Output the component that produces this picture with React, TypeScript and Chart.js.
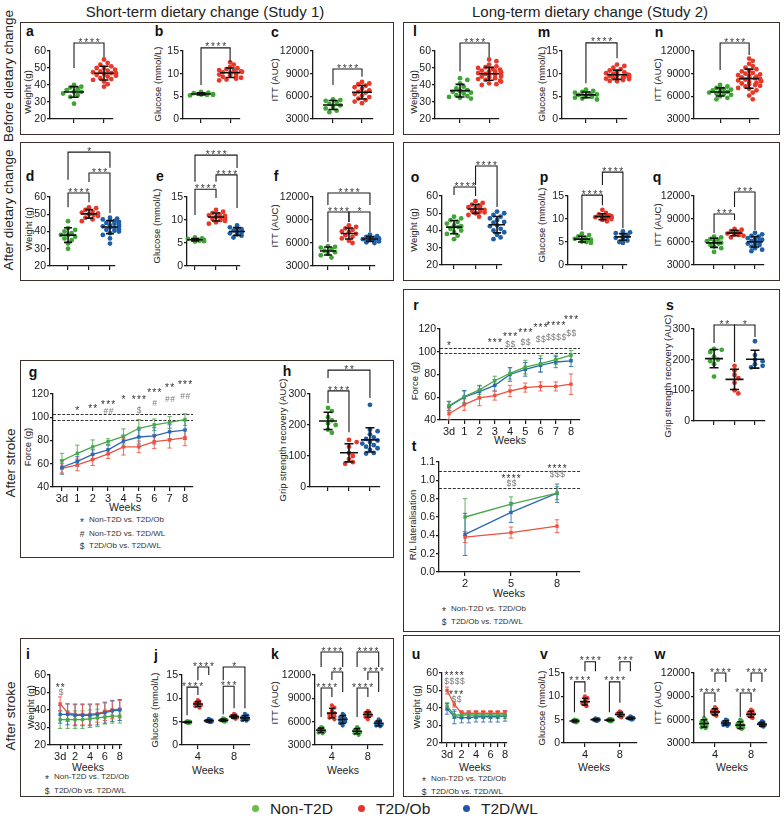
import React, { useEffect, useRef } from 'react';
import { Chart, registerables } from 'chart.js';
Chart.register(...registerables);

const FONT = "'Liberation Sans', Arial, Helvetica, sans-serif";
Chart.defaults.font.family = FONT;

const C_NON = '#3fa535';
const C_OB = '#e8382a';
const C_WL = '#1f5fa6';
const L_NON = '#47a847';
const L_OB = '#ee5040';
const L_WL = '#2a69b4';

// ================= DATA =================
const seriesNames = ['Non-T2D', 'T2D/Ob', 'T2D/WL'];

// tick values / labels
const weightTicks = [20, 30, 40, 50, 60];
const glucoseTicks = [0, 5, 10, 15];
const ittTicks = [3000, 6000, 9000, 12000];
const gripTicks = [0, 100, 200, 300];
const forceTicks = [40, 60, 80, 100, 120];
const lateralTicks = [0, 0.2, 0.4, 0.6, 0.8, 1.0, 1.2];
const lateralLabels = ['0.0', '0.2', '0.4', '0.6', '0.8', '1.0', '1.1'];
const weekPos9 = [0, 1, 2, 3, 4, 5, 6, 7, 8];
const weekLabels9 = ['3d', '1', '2', '3', '4', '5', '6', '7', '8'];
const weekLabelsSparse = ['3d', '', '2', '', '4', '', '6', '', '8'];
const weekPos3 = [2, 5, 8];
const weekLabels3 = ['2', '5', '8'];
const weekPair = ['4', '8'];

// Study 1 - before dietary change
const a_NonT2D = [40, 39, 38.5, 37.5, 37, 36, 36, 35, 34, 33, 29];
const a_T2DOb = [55, 53, 52, 51, 50, 50, 49, 48.5, 48, 47.5, 47, 47, 46.5, 46, 45.5, 45, 44, 43.5, 43, 42, 40.5, 39];
const b_NonT2D = [6.0, 5.8, 5.7, 5.6, 5.5, 5.5, 5.4, 5.3, 5.2, 5.3];
const b_T2DOb = [12.5, 12.0, 11.5, 11.2, 11.0, 10.8, 10.6, 10.5, 10.4, 10.3, 10.2, 10.1, 10.0, 9.9, 9.8, 9.6, 9.5, 9.3, 9.1, 8.9, 8.7, 8.5];
const c_NonT2D = [5600, 5500, 5400, 5200, 5000, 4800, 4600, 4400, 4100, 3900];
const c_T2DOb = [7900, 7700, 7600, 7400, 7200, 7000, 6800, 6600, 6500, 6300, 6100, 5900, 5700, 5500, 5300, 5100];
// Study 2 - before
const l_NonT2D = [44, 43, 41, 39, 38, 37, 36.5, 36, 35.5, 35, 34, 33.5, 33, 32.5, 32];
const l_T2DOb = [55, 54, 52, 51, 50.5, 50, 49.5, 49, 48.5, 48, 48, 47.5, 47, 47, 46.5, 46.5, 46, 46, 45.5, 45, 45, 44.5, 44, 43.5, 43, 42.5, 42, 41, 40.5, 40];
const m_NonT2D = [6.5, 6.2, 6.0, 5.8, 5.6, 5.4, 5.3, 5.2, 5.1, 5.0, 4.9, 4.7, 4.5, 4.3];
const m_T2DOb = [12.0, 11.7, 11.3, 11.0, 10.7, 10.5, 10.3, 10.1, 10.0, 9.9, 9.8, 9.7, 9.6, 9.5, 9.4, 9.3, 9.2, 9.1, 9.0, 8.9, 8.8, 8.7, 8.6, 8.4, 8.3];
const n_NonT2D = [7500, 7300, 7100, 7000, 6900, 6800, 6700, 6600, 6500, 6400, 6300, 6200, 6000, 5800, 5600];
const n_T2DOb = [11000, 10700, 10300, 10000, 9800, 9600, 9400, 9300, 9100, 9000, 8900, 8800, 8700, 8600, 8500, 8500, 8400, 8300, 8200, 8100, 8000, 7900, 7800, 7700, 7600, 7500, 7400, 7300, 7100, 7000, 6800, 6500, 6100, 5600];
// Study 1 - after dietary change
const d_NonT2D = [46, 42, 41, 40, 39, 38, 38, 37, 36, 35, 33, 30];
const d_T2DOb = [54, 53.5, 52.5, 51.5, 51, 50.5, 50, 49.5, 49, 48, 47, 46];
const d_T2DWL = [48, 47.5, 47, 46.5, 46, 45.5, 45, 44.5, 44, 43.5, 43, 43, 42.5, 42, 41.5, 41, 40.5, 40, 39, 38, 36, 33];
const e_NonT2D = [6.2, 6.0, 5.9, 5.8, 5.7, 5.7, 5.6, 5.5, 5.4, 5.3];
const e_T2DOb = [12.2, 11.8, 11.5, 11.2, 11.0, 10.9, 10.7, 10.6, 10.4, 10.2, 10.0, 9.8, 9.5, 9.2];
const e_T2DWL = [8.8, 8.6, 8.4, 8.2, 8.0, 7.8, 7.7, 7.6, 7.5, 7.4, 7.3, 7.1, 6.9, 6.6, 6.2, 5.8];
const f_NonT2D = [5600, 5500, 5400, 5200, 5000, 4800, 4600, 4400, 4100];
const f_T2DOb = [8300, 8100, 7900, 7700, 7500, 7400, 7200, 7000, 6800, 6600, 6300, 6000];
const f_T2DWL = [7100, 6900, 6800, 6700, 6650, 6600, 6550, 6500, 6450, 6400, 6300, 6200, 6100, 6000];
// Study 2 - after dietary change
const o_NonT2D = [48, 47, 46, 45, 44, 43, 42.5, 42, 41, 40, 39, 38, 37, 35];
const o_T2DOb = [57, 56, 55, 54.5, 54, 53.5, 53, 52.5, 52, 51.5, 51, 50.5, 50, 49, 48];
const o_T2DWL = [51, 50, 49, 48, 47, 46, 45, 44.5, 44, 43, 42.5, 42, 41, 40, 39, 37.5, 36, 35];
const p_NonT2D = [6.8, 6.5, 6.2, 5.9, 5.7, 5.5, 5.4, 5.3, 5.2, 5.1, 5.0, 4.8];
const p_T2DOb = [12.0, 11.3, 11.0, 10.8, 10.7, 10.6, 10.5, 10.4, 10.3, 10.2, 10.1, 10.0, 9.8, 9.5];
const p_T2DWL = [7.3, 7.1, 6.9, 6.7, 6.5, 6.4, 6.3, 6.2, 6.1, 6.0, 5.9, 5.7, 5.5, 5.3, 5.0, 4.8];
const q_NonT2D = [6700, 6600, 6400, 6300, 6100, 6000, 5900, 5800, 5600, 5400, 5200, 4700];
const q_T2DOb = [7700, 7600, 7400, 7300, 7200, 7100, 7000, 6900, 6800, 6600];
const q_T2DWL = [7200, 7000, 6800, 6700, 6500, 6400, 6300, 6200, 6100, 6000, 5900, 5800, 5700, 5600, 5400, 5200, 5000, 4800];
// Grip strength recovery (AUC)
const h_NonT2D = [255, 245, 225, 215, 205, 200, 185, 175];
const h_T2DOb = [152, 145, 130, 110, 100, 90, 80, 75];
const h_T2DWL = [265, 185, 180, 170, 160, 155, 150, 145, 140, 135, 130, 125, 120, 110, 108];
const s_NonT2D = [235, 232, 225, 210, 200, 195, 185, 145];
const s_T2DOb = [180, 165, 150, 140, 125, 100, 90];
const s_T2DWL = [260, 215, 200, 195, 185, 180, 175];
// After stroke glucose / ITT (week 4, week 8)
const j_wk4_NonT2D = [5.1, 5.0, 5.0, 4.9, 4.9, 4.8, 4.8, 4.7];
const j_wk4_T2DOb = [9.6, 9.3, 9.0, 8.8, 8.7, 8.5, 8.3, 8.0];
const j_wk4_T2DWL = [5.6, 5.4, 5.3, 5.2, 5.1, 5.0, 5.0, 4.9];
const j_wk8_NonT2D = [5.7, 5.5, 5.4, 5.3, 5.3, 5.2, 5.1, 5.0];
const j_wk8_T2DOb = [6.7, 6.4, 6.2, 6.1, 6.0, 5.9, 5.8, 5.6];
const j_wk8_T2DWL = [6.7, 6.3, 6.0, 5.8, 5.7, 5.5, 5.3, 5.2];
const k_wk4_NonT2D = [5300, 5200, 5000, 4900, 4850, 4750, 4600, 4500];
const k_wk4_T2DOb = [8100, 7800, 7400, 7100, 6900, 6700, 6500, 6300];
const k_wk4_T2DWL = [7000, 6800, 6600, 6400, 6200, 6000, 5800, 5500];
const k_wk8_NonT2D = [5300, 5100, 4900, 4800, 4700, 4600, 4500, 4300];
const k_wk8_T2DOb = [7400, 7200, 7100, 7000, 6900, 6800, 6600, 6300];
const k_wk8_T2DWL = [6300, 6100, 5900, 5800, 5700, 5600, 5500, 5400];
const v_wk4_NonT2D = [5.0, 4.9, 4.8, 4.7, 4.7, 4.6, 4.5, 4.4];
const v_wk4_T2DOb = [10.0, 9.6, 9.2, 8.9, 8.7, 8.4, 8.2, 7.9];
const v_wk4_T2DWL = [5.3, 5.2, 5.1, 5.0, 5.0, 4.9, 4.8, 4.7];
const v_wk8_NonT2D = [5.2, 5.1, 5.0, 4.9, 4.9, 4.8, 4.7, 4.6];
const v_wk8_T2DOb = [6.8, 6.5, 6.3, 6.1, 6.0, 5.9, 5.7, 5.5];
const v_wk8_T2DWL = [5.7, 5.5, 5.4, 5.3, 5.2, 5.2, 5.1, 5.0];
const w_wk4_NonT2D = [6200, 6000, 5800, 5600, 5400, 5200, 5000, 4900];
const w_wk4_T2DOb = [7600, 7400, 7200, 7000, 6900, 6800, 6600, 6500];
const w_wk4_T2DWL = [6000, 5900, 5700, 5600, 5500, 5400, 5300, 5200];
const w_wk8_NonT2D = [6000, 5800, 5500, 5300, 5100, 5000, 4900, 4800];
const w_wk8_T2DOb = [7300, 7100, 6900, 6700, 6600, 6500, 6300, 6200];
const w_wk8_T2DWL = [5800, 5700, 5500, 5400, 5300, 5300, 5200, 5100];

// Grip force time courses (mean, SD)
const g_NonT2D_mean = [62.5, 69, 74.5, 79, 83.5, 90.5, 93.5, 95.5, 98];
const g_NonT2D_sd = [6.5, 7, 6, 2.5, 6.5, 7.5, 5, 5, 5];
const g_T2DWL_mean = [57, 62, 68, 72, 79.5, 83, 84, 87.5, 89];
const g_T2DWL_sd = [6, 4, 4, 4, 5, 6, 7, 6, 8];
const g_T2DOb_mean = [56, 59, 63.5, 68.5, 74.5, 74.5, 79, 80.5, 82.5];
const g_T2DOb_sd = [4, 5, 5, 4, 7, 5, 6, 7, 7];
const r_NonT2D_mean = [52.5, 60.5, 66.5, 74.5, 81, 86.5, 89.5, 93, 97];
const r_NonT2D_sd = [4, 5, 4, 4, 5, 6, 7, 4, 4];
const r_T2DWL_mean = [52, 60, 65, 70.5, 80, 84.5, 88, 91, 92];
const r_T2DWL_sd = [4, 6, 5, 5, 6, 6, 6, 5, 5];
const r_T2DOb_mean = [45.5, 53.5, 59.5, 61.5, 65.5, 68.5, 69.5, 69.5, 71.5];
const r_T2DOb_sd = [5, 5, 7, 4, 5, 4, 4, 4, 9];
const t_NonT2D_mean = [0.60, 0.74, 0.86];
const t_NonT2D_sd = [0.2, 0.08, 0.07];
const t_T2DWL_mean = [0.41, 0.65, 0.86];
const t_T2DWL_sd = [0.23, 0.11, 0.1];
const t_T2DOb_mean = [0.38, 0.43, 0.50];
const t_T2DOb_sd = [0.06, 0.06, 0.07];
// Body weight after stroke
const i_NonT2D_mean = [34.5, 34.5, 34.5, 34.5, 35, 35.5, 36, 36.5, 36.5];
const i_NonT2D_sd = [5, 5, 5, 5, 5, 5, 4, 4, 4];
const i_T2DWL_mean = [37.5, 37.5, 37, 37, 37, 37.5, 38.5, 39.5, 40];
const i_T2DWL_sd = [5, 6, 6, 6, 6, 6, 6, 6, 6];
const i_T2DOb_mean = [43.5, 38.5, 37.5, 37.5, 37.5, 38, 39, 40, 40.5];
const i_T2DOb_sd = [4, 5, 6, 6, 6, 5, 5, 5, 5];
const u_NonT2D_mean = [41, 36, 36, 36, 36, 36, 36, 36, 36];
const u_NonT2D_sd = [2, 2, 2, 2, 2, 2, 2, 2, 2];
const u_T2DWL_mean = [39.5, 35, 34.5, 34.5, 35, 35, 35, 35, 35.5];
const u_T2DWL_sd = [3, 4, 3, 3, 3, 3, 3, 3, 3];
const u_T2DOb_mean = [50, 42, 37, 37, 37, 37, 37, 37, 37];
const u_T2DOb_sd = [2, 1.5, 1.5, 1.5, 1.5, 1.5, 1.5, 1.5, 1.5];

// ================= LAYOUT =================
const YW = 46, TP = 62, RP = 14, XH = 20;
const G3 = [1, 2, 3];
const G2 = [1, 2];
const GP = [0.7, 1, 1.3, 1.7, 2, 2.3];
const C2 = [C_NON, C_OB];
const C3 = [C_NON, C_OB, C_WL];
const C6 = [C_NON, C_OB, C_WL, C_NON, C_OB, C_WL];

const dotPanels: any[] = [
  { rect: [50, 51, 113, 119], xr: [0.2, 2.3], yt: weightTicks, gx: G2, cols: C2, vals: [a_NonT2D, a_T2DOb], xt: G2, xl: ['', ''], mw: 10, cw: 4.5, d: 4.3, mo: 12,
    br: [[0, 1, 64.7, 50, 56.5, '****']] },
  { rect: [183, 51, 240, 119], xr: [0.38, 2.34], yt: glucoseTicks, gx: G2, cols: C2, vals: [b_NonT2D, b_T2DOb], xt: G2, xl: ['', ''], mw: 10, cw: 4.5, d: 4.3, mo: 12,
    br: [[0, 1, 15.7, 7.5, 12.6, '****']] },
  { rect: [313, 51, 373, 119], xr: [0.31, 2.38], yt: ittTicks, gx: G2, cols: C2, vals: [c_NonT2D, c_T2DOb], xt: G2, xl: ['', ''], mw: 10, cw: 4.5, d: 4.3, mo: 12,
    br: [[0, 1, 9620, 7500, 8600, '****']] },
  { rect: [435, 51, 499, 119], xr: [0.14, 2.34], yt: weightTicks, gx: G2, cols: C2, vals: [l_NonT2D, l_T2DOb], xt: G2, xl: ['', ''], mw: 10, cw: 4.5, d: 4.3, mo: 12,
    br: [[0, 1, 64.7, 48, 56.5, '****']] },
  { rect: [562, 51, 627, 119], xr: [0.23, 2.32], yt: glucoseTicks, gx: G2, cols: C2, vals: [m_NonT2D, m_T2DOb], xt: G2, xl: ['', ''], mw: 10, cw: 4.5, d: 4.3, mo: 12,
    br: [[0, 1, 16.8, 7.9, 13.4, '****']] },
  { rect: [694, 51, 759, 119], xr: [0.1, 2.34], yt: ittTicks, gx: G2, cols: C2, vals: [n_NonT2D, n_T2DOb], xt: G2, xl: ['', ''], mw: 10, cw: 4.5, d: 4.3, mo: 12,
    br: [[0, 1, 13060, 9490, 11470, '****']] },
  { rect: [50, 197, 115, 266], xr: [0.14, 3.24], yt: weightTicks, gx: G3, cols: C3, vals: [d_NonT2D, d_T2DOb, d_T2DWL], xt: G3, xl: ['', '', ''], mw: 8, cw: 4, d: 4.2, mo: 9,
    br: [[0, 1, 62.3, 54, 57, '****'], [1, 2, 73.9, 68.7, 50.7, '***'], [0, 2, 86, 70, 77, '*']] },
  { rect: [187, 197, 240, 266], xr: [0.62, 3.14], yt: glucoseTicks, gx: G3, cols: C3, vals: [e_NonT2D, e_T2DOb, e_T2DWL], xt: G3, xl: ['', '', ''], mw: 8, cw: 4, d: 4.2, mo: 9,
    br: [[0, 1, 16.7, 11.1, 14.8, '****'], [1, 2, 19.8, 18.3, 12.6, '****'], [0, 2, 24.1, 18.3, 21.3, '****']] },
  { rect: [313, 197, 375, 266], xr: [0.29, 3.24], yt: ittTicks, gx: G3, cols: C3, vals: [f_NonT2D, f_T2DOb, f_T2DWL], xt: G3, xl: ['', '', ''], mw: 8, cw: 4, d: 4.2, mo: 9,
    br: [[0, 1, 10040, 6130, 8740, '****'], [1, 2, 10040, 8740, 7440, '*'], [0, 2, 12520, 10960, 10960, '****']] },
  { rect: [442, 196, 502, 265], xr: [0.44, 3.23], yt: weightTicks, gx: G3, cols: C3, vals: [o_NonT2D, o_T2DOb, o_T2DWL], xt: G3, xl: ['', '', ''], mw: 8, cw: 4, d: 4.2, mo: 9,
    br: [[0, 1, 65.2, 60.6, 60, '****'], [1, 2, 77.4, 66.4, 53.6, '****']] },
  { rect: [568, 196, 627, 265], xr: [0.32, 3.2], yt: glucoseTicks, gx: G3, cols: C3, vals: [p_NonT2D, p_T2DOb, p_T2DWL], xt: G3, xl: ['', '', ''], mw: 8, cw: 4, d: 4.2, mo: 9,
    br: [[0, 1, 15.2, 7.6, 13, '****'], [1, 2, 20.2, 17.4, 8, '****']] },
  { rect: [694, 196, 764, 265], xr: [0.02, 3.44], yt: ittTicks, gx: G3, cols: C3, vals: [q_NonT2D, q_T2DOb, q_T2DWL], xt: G3, xl: ['', '', ''], mw: 8, cw: 4, d: 4.2, mo: 9,
    br: [[0, 1, 9650, 7170, 8870, '***'], [1, 2, 12520, 10560, 7560, '***']] },
  { rect: [310, 394, 380, 487], xr: [0.14, 3.48], yt: gripTicks, gx: G3, cols: C3, vals: [h_NonT2D, h_T2DOb, h_T2DWL], xt: G3, xl: ['', '', ''], mw: 9, cw: 4.5, d: 4.5, mo: 10,
    br: [[0, 1, 310, 271, 177, '****'], [0, 2, 377, 352, 287, '**']] },
  { rect: [694, 329, 765, 421], xr: [0.02, 3.49], yt: gripTicks, gx: G3, cols: C3, vals: [s_NonT2D, s_T2DOb, s_T2DWL], xt: G3, xl: ['', '', ''], mw: 9, cw: 4.5, d: 4.5, mo: 10,
    br: [[0, 1, 313, 254, 192, '**'], [1, 2, 313, 192, 274, '*']] },
  { rect: [182, 675, 250, 745], xr: [0.56, 2.44], yt: glucoseTicks, gx: GP, cols: C6,
    vals: [j_wk4_NonT2D, j_wk4_T2DOb, j_wk4_T2DWL, j_wk8_NonT2D, j_wk8_T2DOb, j_wk8_T2DWL], xt: G2, xl: weekPair, mw: 5, cw: 3, d: 3, mo: 3,
    br: [[0, 1, 12.4, 6.4, 10.7, '****'], [1, 2, 16.7, 13.9, 15, '****'], [3, 4, 12.6, 6.6, 7.9, '***'], [3, 5, 16.7, 13.9, 7.9, '*']] },
  { rect: [315, 675, 383, 745], xr: [0.53, 2.42], yt: ittTicks, gx: GP, cols: C6,
    vals: [k_wk4_NonT2D, k_wk4_T2DOb, k_wk4_T2DWL, k_wk8_NonT2D, k_wk8_T2DOb, k_wk8_T2DWL], xt: G2, xl: weekPair, mw: 5, cw: 3, d: 3, mo: 3,
    br: [[0, 1, 10330, 6600, 9170, '****'], [1, 2, 12390, 11360, 9810, '**'], [0, 2, 14960, 13030, 13030, '****'],
         [3, 4, 10330, 6600, 9170, '****'], [4, 5, 12390, 11360, 9810, '****'], [3, 5, 14960, 13030, 13030, '****']] },
  { rect: [564, 673, 637, 743], xr: [0.4, 2.49], yt: glucoseTicks, gx: GP, cols: C6,
    vals: [v_wk4_NonT2D, v_wk4_T2DOb, v_wk4_T2DWL, v_wk8_NonT2D, v_wk8_T2DOb, v_wk8_T2DWL], xt: G2, xl: weekPair, mw: 5, cw: 3, d: 3, mo: 3,
    br: [[0, 1, 13.1, 6.6, 10.9, '****'], [1, 2, 17.4, 15.4, 15.4, '****'], [3, 4, 13.1, 6.6, 8.6, '****'], [4, 5, 17.4, 15.4, 15.4, '***']] },
  { rect: [694, 673, 767, 743], xr: [0.42, 2.44], yt: ittTicks, gx: GP, cols: C6,
    vals: [w_wk4_NonT2D, w_wk4_T2DOb, w_wk4_T2DWL, w_wk8_NonT2D, w_wk8_T2DOb, w_wk8_T2DWL], xt: G2, xl: weekPair, mw: 5, cw: 3, d: 3, mo: 3,
    br: [[0, 1, 9430, 6340, 8270, '****'], [1, 2, 12000, 10840, 10840, '****'], [3, 4, 9430, 6340, 8270, '****'], [4, 5, 12000, 10840, 10840, '****']] },
];

const linePanels: any[] = [
  { rect: [53, 394, 193, 487], xr: [-0.58, 8.52], yt: forceTicks, xs: weekPos9, xl: weekLabels9,
    series: [[g_NonT2D_mean, g_NonT2D_sd, L_NON], [g_T2DWL_mean, g_T2DWL_sd, L_WL], [g_T2DOb_mean, g_T2DOb_sd, L_OB]],
    ref: [102.8, 97.6],
    notes: [[1, 108, '*'], [2, 109, '**'], [3, 113, '***'], [3, 105.4, '##'], [4, 117.4, '*'], [5, 117.4, '***'], [5, 106, '$'],
            [6, 123.4, '***'], [6, 112, '#'], [7, 127.7, '**'], [7, 115.7, '##'], [8, 130.3, '***'], [8, 118.3, '##']] },
  { rect: [440, 329, 580, 420], xr: [-0.59, 8.59], yt: forceTicks, xs: weekPos9, xl: weekLabels9,
    series: [[r_NonT2D_mean, r_NonT2D_sd, L_NON], [r_T2DWL_mean, r_T2DWL_sd, L_WL], [r_T2DOb_mean, r_T2DOb_sd, L_OB]],
    ref: [103.3, 98.9],
    notes: [[0, 107.7, '*'], [3, 110.3, '***'], [4, 115.6, '***'], [4, 106.8, '$$'], [5, 119, '***'], [5, 108.6, '$$'],
            [6, 123.5, '***'], [6, 111.2, '$$'], [7, 125.3, '****'], [7, 113, '$$$$'], [8, 130.5, '***'], [8, 116.5, '$$']] },
  { rect: [439, 462, 580, 572], xr: [0.3, 9.5], yt: lateralTicks, ytl: lateralLabels, xs: weekPos3, xl: weekLabels3,
    series: [[t_NonT2D_mean, t_NonT2D_sd, L_NON], [t_T2DWL_mean, t_T2DWL_sd, L_WL], [t_T2DOb_mean, t_T2DOb_sd, L_OB]],
    ref: [1.1, 0.92],
    notes: [[5, 1.047, '****'], [5, 0.97, '$$'], [8, 1.156, '****'], [8, 1.069, '$$$']] },
  { rect: [50, 675, 122, 745], xr: [-1.36, 8.3], yt: weightTicks, xs: weekPos9, xl: weekLabelsSparse,
    series: [[i_NonT2D_mean, i_NonT2D_sd, L_NON], [i_T2DWL_mean, i_T2DWL_sd, L_WL], [i_T2DOb_mean, i_T2DOb_sd, L_OB]],
    ref: [], notes: [[0, 54.3, '**'], [0.1, 50.3, '$']] },
  { rect: [442, 673, 507, 743], xr: [-0.7, 8.28], yt: weightTicks, xs: weekPos9, xl: weekLabelsSparse,
    series: [[u_NonT2D_mean, u_NonT2D_sd, L_NON], [u_T2DWL_mean, u_T2DWL_sd, L_WL], [u_T2DOb_mean, u_T2DOb_sd, L_OB]],
    ref: [], notes: [[0.97, 60, '****'], [0.97, 55.4, '$$$$'], [1.24, 49.1, '***'], [1.24, 45.1, '$$']] },
];

// ================= HELPERS =================
const meanOf = (v: number[]) => v.reduce((s, x) => s + x, 0) / v.length;
const sdOf = (v: number[]) => {
  const m = meanOf(v);
  return Math.sqrt(v.reduce((s, x) => s + (x - m) * (x - m), 0) / (v.length - 1));
};

function swarm(vals: number[], x0: number, pxX: number, pxY: number, d: number, maxOff: number) {
  const placed: { x: number; y: number }[] = [];
  const out: { x: number; y: number }[] = [];
  const sorted = [...vals].sort((a, b) => b - a);
  for (const v of sorted) {
    const yp = v * pxY;
    let off = 0;
    for (let n = 0; n < 14; n++) {
      const cand = n === 0 ? 0 : (n % 2 ? 1 : -1) * Math.ceil(n / 2) * d * 0.85;
      if (Math.abs(cand) > maxOff) { off = (n % 2 ? 1 : -1) * maxOff * ((placed.length % 3) / 2); break; }
      if (placed.every(p => Math.hypot(p.x - cand, p.y - yp) >= d)) { off = cand; break; }
    }
    placed.push({ x: off, y: yp });
    out.push({ x: x0 + off / pxX, y: v });
  }
  return out;
}

function axes(cfg: any, xTicks: number[], xLabels: string[]) {
  const yt: number[] = cfg.yt;
  const ytl: string[] = cfg.ytl || yt.map((v: number) => String(v));
  return {
    x: {
      type: 'linear', min: cfg.xr[0], max: cfg.xr[1],
      afterBuildTicks: (s: any) => { s.ticks = xTicks.map(v => ({ value: v })); },
      afterFit: (s: any) => { s.height = XH; },
      ticks: { callback: (_v: any, i: number) => xLabels[i] ?? '', font: { size: 11, family: FONT }, color: '#1a1a1a', padding: 1, maxRotation: 0, autoSkip: false },
      grid: { drawOnChartArea: false, drawTicks: true, tickLength: 4, color: '#1a1a1a', lineWidth: 1.2 },
      border: { display: true, color: '#1a1a1a', width: 1.3 },
    },
    y: {
      type: 'linear', min: yt[0], max: yt[yt.length - 1],
      afterBuildTicks: (s: any) => { s.ticks = yt.map(v => ({ value: v })); },
      afterFit: (s: any) => { s.width = YW; },
      ticks: { callback: (_v: any, i: number) => ytl[i], font: { size: 10.5, family: FONT }, color: '#1a1a1a', padding: 1 },
      grid: { drawOnChartArea: false, drawTicks: true, tickLength: 3, color: '#1a1a1a', lineWidth: 1.2 },
      border: { display: true, color: '#1a1a1a', width: 1.3 },
    },
  };
}

function baseOptions(cfg: any, xTicks: number[], xLabels: string[]) {
  return {
    responsive: false, animation: false, devicePixelRatio: 1, events: [],
    layout: { padding: { top: TP, right: RP, left: 0, bottom: 0 } },
    plugins: { legend: { display: false }, tooltip: { enabled: false } },
    scales: axes(cfg, xTicks, xLabels),
  };
}

function makeDot(canvas: HTMLCanvasElement, cfg: any) {
  const [L, T, R, B] = cfg.rect;
  const pxX = (R - L) / (cfg.xr[1] - cfg.xr[0]);
  const pxY = (B - T) / (cfg.yt[cfg.yt.length - 1] - cfg.yt[0]);
  const datasets = cfg.vals.map((v: number[], gi: number) => ({
    type: 'scatter',
    label: seriesNames[gi % 3],
    data: swarm(v, cfg.gx[gi], pxX, pxY, cfg.d, cfg.mo),
    backgroundColor: cfg.cols[gi], borderWidth: 0, pointRadius: cfg.d > 3.5 ? 2.4 : 2.1, clip: false,
  }));
  const overlay = {
    id: 'overlay',
    afterDatasetsDraw(chart: any) {
      const ctx = chart.ctx, xs = chart.scales.x, ys = chart.scales.y;
      ctx.save();
      ctx.strokeStyle = '#111';
      ctx.lineWidth = 1.6;
      cfg.vals.forEach((v: number[], gi: number) => {
        const m = meanOf(v), s = sdOf(v);
        const px = xs.getPixelForValue(cfg.gx[gi]);
        const ym = ys.getPixelForValue(m), yt = ys.getPixelForValue(m + s), yb = ys.getPixelForValue(m - s);
        ctx.beginPath();
        ctx.moveTo(px - cfg.mw, ym); ctx.lineTo(px + cfg.mw, ym);
        ctx.moveTo(px, yt); ctx.lineTo(px, yb);
        ctx.moveTo(px - cfg.cw, yt); ctx.lineTo(px + cfg.cw, yt);
        ctx.moveTo(px - cfg.cw, yb); ctx.lineTo(px + cfg.cw, yb);
        ctx.stroke();
      });
      ctx.lineWidth = 1.1;
      ctx.strokeStyle = '#1a1a1a';
      for (const [a, b, y, ya, yb, t] of cfg.br) {
        const xa = xs.getPixelForValue(cfg.gx[a]), xb = xs.getPixelForValue(cfg.gx[b]);
        const Y = ys.getPixelForValue(y);
        ctx.beginPath();
        ctx.moveTo(xa, ys.getPixelForValue(ya)); ctx.lineTo(xa, Y); ctx.lineTo(xb, Y); ctx.lineTo(xb, ys.getPixelForValue(yb));
        ctx.stroke();
        ctx.font = `10px ${FONT}`;
        (ctx as any).letterSpacing = '1.8px';
        ctx.fillStyle = '#3a3a3a';
        ctx.textAlign = 'center';
        ctx.textBaseline = 'alphabetic';
        ctx.fillText(t, (xa + xb) / 2 + 1, Y + 2.6);
        (ctx as any).letterSpacing = '0px';
      }
      ctx.restore();
    },
  };
  return new Chart(canvas, {
    type: 'scatter',
    data: { datasets },
    options: baseOptions(cfg, cfg.xt, cfg.xl) as any,
    plugins: [overlay],
  } as any);
}

function makeLine(canvas: HTMLCanvasElement, cfg: any) {
  const datasets = cfg.series.map(([mean, , col]: any, si: number) => ({
    type: 'line',
    label: ['Non-T2D', 'T2D/WL', 'T2D/Ob'][si],
    data: cfg.xs.map((x: number, i: number) => ({ x, y: mean[i] })),
    borderColor: col, backgroundColor: col, borderWidth: 1.3,
    pointStyle: 'rect', pointRadius: 2.4, pointBorderWidth: 0, pointBackgroundColor: col,
    tension: 0, clip: false,
  }));
  const overlay = {
    id: 'overlay',
    beforeDatasetsDraw(chart: any) {
      const ctx = chart.ctx, xs = chart.scales.x, ys = chart.scales.y, ca = chart.chartArea;
      ctx.save();
      ctx.strokeStyle = '#333';
      ctx.lineWidth = 1;
      ctx.setLineDash([3, 1.6]);
      for (const rv of cfg.ref) {
        const y = Math.round(ys.getPixelForValue(rv)) + 0.5;
        ctx.beginPath(); ctx.moveTo(ca.left, y); ctx.lineTo(ca.right, y); ctx.stroke();
      }
      ctx.setLineDash([]);
      ctx.lineWidth = 1;
      for (const [mean, sd, col] of cfg.series) {
        ctx.strokeStyle = col;
        ctx.globalAlpha = 0.85;
        cfg.xs.forEach((x: number, i: number) => {
          const px = xs.getPixelForValue(x);
          const y1 = ys.getPixelForValue(mean[i] + sd[i]), y2 = ys.getPixelForValue(mean[i] - sd[i]);
          ctx.beginPath();
          ctx.moveTo(px, y1); ctx.lineTo(px, y2);
          ctx.moveTo(px - 2.2, y1); ctx.lineTo(px + 2.2, y1);
          ctx.moveTo(px - 2.2, y2); ctx.lineTo(px + 2.2, y2);
          ctx.stroke();
        });
      }
      ctx.restore();
    },
    afterDatasetsDraw(chart: any) {
      const ctx = chart.ctx, xs = chart.scales.x, ys = chart.scales.y;
      ctx.save();
      ctx.textAlign = 'center';
      ctx.textBaseline = 'alphabetic';
      for (const [x, y, t] of cfg.notes) {
        const star = t[0] === '*';
        const fs = star ? 10 : 8.5;
        ctx.font = `${fs}px ${FONT}`;
        ctx.fillStyle = star ? '#2e2e2e' : '#7a7a7a';
        (ctx as any).letterSpacing = star ? '1.2px' : '0.5px';
        ctx.fillText(t, xs.getPixelForValue(x) + 0.6, ys.getPixelForValue(y) + (star ? 0.57 : 0.35) * fs);
      }
      (ctx as any).letterSpacing = '0px';
      ctx.restore();
    },
  };
  return new Chart(canvas, {
    type: 'line',
    data: { datasets },
    options: baseOptions(cfg, cfg.xs, cfg.xl) as any,
    plugins: [overlay],
  } as any);
}

function ChartCanvas({ cfg, kind }: any) {
  const ref = useRef<HTMLCanvasElement>(null);
  const [L, T, R, B] = cfg.rect;
  const x = L - YW, y = T - TP, w = R - L + YW + RP, h = B - T + TP + XH;
  useEffect(() => {
    const ch = kind === 'dot' ? makeDot(ref.current!, cfg) : makeLine(ref.current!, cfg);
    return () => ch.destroy();
  }, []);
  return <canvas ref={ref} width={w} height={h} style={{ position: 'absolute', left: x, top: y, width: w, height: h }} />;
}

// ================= TEXT =================
function Txt({ x, y, s = 10, b = false, rot = false, left = false, c = '#222', children }: any) {
  return (
    <div style={{
      position: 'absolute', left: x, top: y, fontSize: s, fontWeight: b ? 700 : 400, color: c,
      whiteSpace: 'nowrap', lineHeight: 1, fontFamily: FONT,
      transform: rot ? 'translate(-50%,-50%) rotate(-90deg)' : left ? 'translate(0,-50%)' : 'translate(-50%,-50%)',
    }}>{children}</div>
  );
}

const boxes = [
  [20, 22, 394, 135], [403, 22, 780, 135],
  [20, 142, 394, 281], [403, 142, 780, 281],
  [20, 360, 394, 558], [403, 289, 780, 632],
  [20, 638, 394, 797], [403, 635, 780, 797],
];

const letters: [string, number, number][] = [
  ['a', 30, 31], ['b', 159, 31], ['c', 275, 32], ['l', 415, 31], ['m', 544, 32], ['n', 659, 32],
  ['d', 30, 176], ['e', 160, 176], ['f', 276, 176], ['o', 415, 177], ['p', 544, 177], ['q', 657, 177],
  ['g', 33, 372], ['h', 287, 371], ['r', 416, 305], ['s', 670, 305], ['t', 414, 446],
  ['i', 28, 654], ['j', 156, 655], ['k', 275, 654], ['u', 416, 654], ['v', 544, 654], ['w', 660, 654],
];

const yTitles: [string, number, number][] = [
  ['Weight (g)', 28, 92], ['Glucose (mmol/L)', 158, 84], ['ITT (AUC)', 275, 80],
  ['Weight (g)', 414, 92], ['Glucose (mmol/L)', 542, 84], ['ITT (AUC)', 658, 80],
  ['Weight (g)', 29, 229], ['Glucose (mmol/L)', 157, 226], ['ITT (AUC)', 275, 226],
  ['Weight (g)', 414, 230], ['Glucose (mmol/L)', 542, 225], ['ITT (AUC)', 658, 225],
  ['Force (g)', 28, 447], ['Grip strength recovery (AUC)', 283, 440],
  ['Force (g)', 415, 381], ['Grip strength recovery (AUC)', 668, 376], ['R/L lateralisation', 413, 525],
  ['Weight (g)', 31, 707], ['Glucose (mmol/L)', 155, 710], ['ITT (AUC)', 275, 703],
  ['Weight (g)', 417, 707], ['Glucose (mmol/L)', 542, 708], ['ITT (AUC)', 658, 703],
];

const weeksTitles: [number, number][] = [
  [125, 507], [510, 440], [509, 593], [88, 767], [208, 770], [343, 770], [475, 767], [594, 767], [732, 767],
];

const statLegends: [number, number, string, string][] = [
  [82, 520, '*', 'Non-T2D vs. T2D/Ob'], [82, 534, '#', 'Non-T2D vs. T2D/WL'], [82, 546, '$', 'T2D/Ob vs. T2D/WL'],
  [444, 609, '*', 'Non-T2D vs. T2D/Ob'], [444, 622, '$', 'T2D/Ob vs. T2D/WL'],
  [47, 777, '*', 'Non-T2D vs. T2D/Ob'], [47, 791, '$', 'T2D/Ob vs. T2D/WL'],
  [424, 779, '*', 'Non-T2D vs. T2D/Ob'], [424, 792, '$', 'T2D/Ob vs. T2D/WL'],
];

const legendItems: [string, string, number][] = [
  ['Non-T2D', '#6cbd45', 255], ['T2D/Ob', '#e5352b', 361], ['T2D/WL', '#1f56a8', 466],
];

export default function App() {
  return (
    <div style={{ position: 'absolute', left: 0, top: 0, width: 784, height: 818, background: '#fff', overflow: 'hidden', fontFamily: FONT }}>
      {boxes.map(([l, t, r, b], i) => (
        <div key={'bx' + i} style={{ position: 'absolute', left: l, top: t, width: r - l, height: b - t, border: '1.5px solid #3b302c', boxSizing: 'border-box' }} />
      ))}
      <Txt x={205} y={11} s={15}>Short-term dietary change (Study 1)</Txt>
      <Txt x={590} y={11} s={15}>Long-term dietary change (Study 2)</Txt>
      <Txt x={9} y={76} s={13.5} rot>Before dietary change</Txt>
      <Txt x={9} y={210} s={13.5} rot>After dietary change</Txt>
      <Txt x={11} y={463} s={13.5} rot>After stroke</Txt>
      <Txt x={11} y={716} s={13.5} rot>After stroke</Txt>
      {letters.map(([l, x, y]) => <Txt key={'l' + l} x={x} y={y} s={14} b c="#111">{l}</Txt>)}
      {yTitles.map(([t, x, y], i) => <Txt key={'yt' + i} x={x} y={y} s={9.5} rot>{t}</Txt>)}
      {weeksTitles.map(([x, y], i) => <Txt key={'wk' + i} x={x} y={y} s={10.5}>Weeks</Txt>)}
      {statLegends.map(([x, y, sym, t], i) => (
        <React.Fragment key={'sl' + i}>
          <Txt x={x} y={y + (sym === '*' ? 2.5 : 0)} s={sym === '*' ? 10 : 8.5} c="#333">{sym}</Txt>
          <Txt x={x + 7} y={y} s={8} c="#333" left>{t}</Txt>
        </React.Fragment>
      ))}
      {legendItems.map(([t, c, x]) => (
        <React.Fragment key={'lg' + t}>
          <div style={{ position: 'absolute', left: x - 3.5, top: 805, width: 7, height: 7, borderRadius: '50%', background: c }} />
          <Txt x={x + 15} y={809} s={15.5} left>{t}</Txt>
        </React.Fragment>
      ))}
      {dotPanels.map((cfg, i) => <ChartCanvas key={'d' + i} cfg={cfg} kind="dot" />)}
      {linePanels.map((cfg, i) => <ChartCanvas key={'ln' + i} cfg={cfg} kind="line" />)}
    </div>
  );
}
